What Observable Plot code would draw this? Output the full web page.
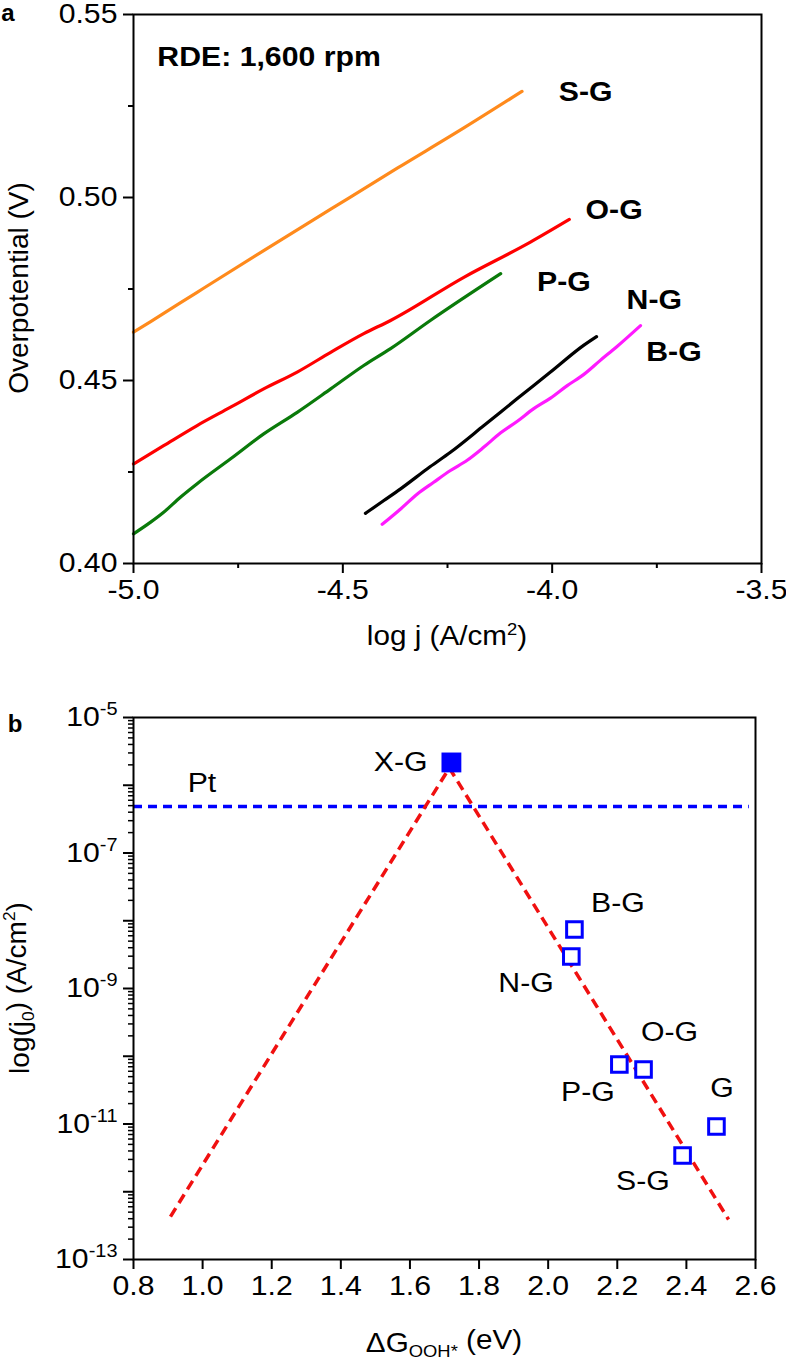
<!DOCTYPE html>
<html><head><meta charset="utf-8">
<script src="https://cdn.jsdelivr.net/npm/d3@7"></script>
<script src="https://cdn.jsdelivr.net/npm/@observablehq/plot@0.6"></script>
<style>
body{margin:0;background:#fff;}
#chart{width:786px;position:relative;}
svg{display:block;}
</style></head><body><div id="chart"></div>
<script>
// ---------- Panel a: Tafel curves ----------
const sgLogJ = [-5.000,-4.959,-4.848,-4.689,-4.529,-4.370,-4.211,-4.072];
const sgEta  = [0.4632,0.4661,0.4741,0.4855,0.4968,0.5080,0.5190,0.5290];
const ogLogJ = [-5.000,-4.928,-4.848,-4.768,-4.689,-4.609,-4.529,-4.450,-4.386,-4.211,-4.052,-3.959];
const ogEta  = [0.4272,0.4322,0.4377,0.4427,0.4477,0.4523,0.4577,0.4628,0.4664,0.4782,0.4878,0.4940];
const pgLogJ = [-5.000,-4.959,-4.928,-4.888,-4.848,-4.768,-4.689,-4.609,-4.529,-4.450,-4.386,-4.291,-4.123];
const pgEta  = [0.4081,0.4113,0.4140,0.4181,0.4218,0.4286,0.4354,0.4413,0.4477,0.4541,0.4587,0.4664,0.4792];
const ngLogJ = [-4.446,-4.402,-4.362,-4.291,-4.243,-4.163,-4.084,-4.004,-3.925,-3.894];
const ngEta  = [0.4137,0.4172,0.4204,0.4265,0.4304,0.4377,0.4450,0.4523,0.4596,0.4620];
const bgLogJ = [-4.406,-4.362,-4.322,-4.283,-4.243,-4.203,-4.163,-4.123,-4.084,-4.044,-4.004,-3.964,-3.925,-3.885,-3.845,-3.789];
const bgEta  = [0.4107,0.4149,0.4190,0.4222,0.4254,0.4282,0.4318,0.4357,0.4388,0.4423,0.4452,0.4486,0.4516,0.4555,0.4593,0.4650];

const seriesNames  = ["S-G","O-G","P-G","N-G","B-G"];
const seriesColors = ["#ff8a1c","#ff0000","#0a7a0a","#000000","#ff1aff"];
const seriesLabelX = [-3.920,-3.852,-3.972,-3.756,-3.709];
const seriesLabelY = [0.5287,0.4964,0.4768,0.4719,0.4577];

const aXMajor = [-5.0,-4.5,-4.0,-3.5];
const aXMinor = [-4.75,-4.25,-3.75];
const aYMajor = [0.40,0.45,0.50,0.55];
const aYMinor = [0.425,0.475,0.525];
const rdeText = "RDE: 1,600 rpm";
const rdeX = -4.943, rdeY = 0.5383;

// ---------- Panel b: volcano ----------
const catNames = ["B-G","N-G","P-G","O-G","S-G","G"];
const catDG    = [2.076,2.067,2.206,2.276,2.389,2.487];
const catJ0    = [7.43e-9,2.97e-9,7.55e-11,6.37e-11,3.43e-12,9.2e-12];
const catLabelX = [2.202,1.936,2.115,2.351,2.274,2.503];
const catLabelY = [1.80e-8,1.19e-9,2.92e-11,2.24e-10,1.42e-12,3.34e-11];
const catLabelOrder = ["B-G","N-G","P-G","O-G","S-G","G"];
const xgDG = 1.72, xgJ0 = 2.17e-6, xgLabelX = 1.651;
const volcanoDG = [0.907,1.714,2.522];
const volcanoJ0 = [4.3e-13,1.8e-6,3.9e-13];
const ptJ0 = 4.85e-7, ptDGStart = 0.8, ptDGEnd = 2.582, ptLabelX = 0.998, ptLabelY = 1.06e-6;
const bXTicks = [0.8,1.0,1.2,1.4,1.6,1.8,2.0,2.2,2.4,2.6];
const bYExp = [-13,-12,-11,-10,-9,-8,-7,-6,-5];
const bYLabelExp = [-13,-11,-9,-7,-5];

const FONT = "Arial, 'Liberation Sans', Helvetica, sans-serif";
const TICKFS = 27, LABFS = 27, SX = 1.12;

const chart = document.getElementById("chart");

// widen glyphs horizontally (reference lettering is wider than Arial)
function stretchTexts(svg, sx) {
  svg.querySelectorAll("text").forEach(el => {
    const T = el.getAttribute("transform") || "";
    if (/rotate/.test(T)) return;
    const xa = el.getAttribute("x");
    if (xa != null && /^-?[\d.]+$/.test(xa.trim())) el.setAttribute("x", parseFloat(xa) / sx);
    const dxa = el.getAttribute("dx");
    if (dxa != null && /^-?[\d.]+$/.test(dxa.trim())) el.setAttribute("dx", parseFloat(dxa) / sx);
    el.setAttribute("transform", `${T} scale(${sx},1)`);
  });
}

// ----- build panel a -----
const curves = [
  [sgLogJ, sgEta], [ogLogJ, ogEta], [pgLogJ, pgEta], [ngLogJ, ngEta], [bgLogJ, bgEta]
];
const curveRows = curves.flatMap(([xs, ys], i) => xs.map((x, k) => ({name: seriesNames[i], x, y: ys[k]})));
const labelRowsA = seriesNames.map((n, i) => ({name: n, x: seriesLabelX[i], y: seriesLabelY[i]}));

const svgA = Plot.plot({
  width: 786, height: 665,
  marginTop: 14, marginBottom: 102, marginLeft: 133, marginRight: 25,
  style: {fontFamily: FONT, fontSize: TICKFS + "px", color: "black", background: "white", overflow: "visible"},
  x: {domain: [-5.0, -3.5]},
  y: {domain: [0.40, 0.55]},
  color: {domain: seriesNames, range: seriesColors},
  marks: [
    Plot.axisX({ticks: aXMajor, tickSize: 10, tickPadding: 6, strokeWidth: 2, tickFormat: d => d.toFixed(1), label: null, fontSize: TICKFS}),
    Plot.axisX({ticks: aXMinor, tickSize: 5, strokeWidth: 2, tickFormat: () => "", label: null}),
    Plot.axisY({ticks: aYMajor, tickSize: 10, tickPadding: 6, strokeWidth: 2, tickFormat: d => d.toFixed(2), label: null, fontSize: TICKFS}),
    Plot.axisY({ticks: aYMinor, tickSize: 5, strokeWidth: 2, tickFormat: () => "", label: null}),
    Plot.line(curveRows, {x: "x", y: "y", z: "name", stroke: "name", strokeWidth: 3.2, curve: "monotone-x"}),
    Plot.text(labelRowsA, {x: "x", y: "y", text: "name", fontWeight: "bold", fontSize: LABFS, textAnchor: "middle", fill: "black"}),
    Plot.text([rdeText], {x: rdeX, y: rdeY, text: d => d, fontWeight: "bold", fontSize: LABFS, textAnchor: "start", fill: "black"}),
    Plot.frame({stroke: "black", strokeWidth: 2})
  ]
});
chart.appendChild(svgA);
stretchTexts(svgA, SX);

// titles for panel a
{
  const s = d3.select(svgA);
  s.append("text").attr("x", 8).attr("y", 21).attr("font-family", FONT).attr("font-weight", "bold")
    .attr("font-size", 24).attr("fill", "black").text("a");
  s.append("text").attr("transform", "translate(28,288) rotate(-90)").attr("text-anchor", "middle")
    .attr("font-family", FONT).attr("font-size", 28).attr("fill", "black").text("Overpotential (V)");
  const t = s.append("text").attr("transform", "translate(447,645) scale(1.06,1)").attr("text-anchor", "middle")
    .attr("font-family", FONT).attr("font-size", 28).attr("fill", "black");
  t.append("tspan").text("log j (A/cm");
  t.append("tspan").attr("dy", "-0.6em").attr("font-size", "0.62em").text("2");
  t.append("tspan").attr("dy", "0.37em").text(")");
}

// ----- build panel b -----
const catRows = catNames.map((n, i) => ({name: n, x: catDG[i], y: catJ0[i]}));
const catLabelRows = catLabelOrder.map((n, i) => ({name: n, x: catLabelX[i], y: catLabelY[i]}));
const volcanoRows = volcanoDG.map((x, i) => ({x, y: volcanoJ0[i]}));
const bYMajor = bYExp.map(e => Math.pow(10, e));
const bYMinor = bYExp.slice(0, -1).flatMap(e => [2,3,4,5,6,7,8,9].map(k => k * Math.pow(10, e)));

const svgB = Plot.plot({
  width: 786, height: 702,
  marginTop: 52, marginBottom: 108, marginLeft: 133, marginRight: 31,
  style: {fontFamily: FONT, fontSize: TICKFS + "px", color: "black", background: "white", overflow: "visible"},
  x: {domain: [0.8, 2.6]},
  y: {type: "log", domain: [1e-13, 1e-5]},
  marks: [
    Plot.axisX({ticks: bXTicks, tickSize: 10, tickPadding: 6, strokeWidth: 2, tickFormat: d => d.toFixed(1), label: null, fontSize: TICKFS}),
    Plot.axisY({ticks: bYMajor, tickSize: 10, tickPadding: 6, strokeWidth: 2, label: null, fontSize: TICKFS,
      tickFormat: d => { const e = Math.round(Math.log10(d)); return bYLabelExp.includes(e) ? "10^" + e : ""; }}),
    Plot.axisY({ticks: bYMinor, tickSize: 5, strokeWidth: 1.5, tickFormat: () => "", label: null}),
    Plot.ruleY([{y: ptJ0, x1: ptDGStart, x2: ptDGEnd}], {y: "y", x1: "x1", x2: "x2", stroke: "#0000ff", strokeWidth: 3.5, strokeDasharray: "9,6"}),
    Plot.line(volcanoRows, {x: "x", y: "y", stroke: "#f01010", strokeWidth: 3.5, strokeDasharray: "10,6", strokeLinecap: "butt"}),
    Plot.dot(catRows, {x: "x", y: "y", symbol: "square", r: 8.8, stroke: "#0000ff", strokeWidth: 3, fill: "white"}),
    Plot.dot([{x: xgDG, y: xgJ0}], {x: "x", y: "y", symbol: "square", r: 11.2, fill: "#0000ff", stroke: "none"}),
    Plot.text(catLabelRows, {x: "x", y: "y", text: "name", fontSize: LABFS, textAnchor: "middle", fill: "black"}),
    Plot.text([{x: xgLabelX, y: xgJ0, t: "X-G"}], {x: "x", y: "y", text: "t", fontSize: LABFS, textAnchor: "end", fill: "black"}),
    Plot.text([{x: ptLabelX, y: ptLabelY, t: "Pt"}], {x: "x", y: "y", text: "t", fontSize: LABFS, textAnchor: "middle", fill: "black"}),
    Plot.frame({stroke: "black", strokeWidth: 2})
  ]
});
chart.appendChild(svgB);

{
  const s = d3.select(svgB);
  // superscript tick labels
  s.selectAll('g[aria-label="y-axis tick label"] text').each(function() {
    const str = this.textContent;
    if (!str || str.indexOf("^") < 0) return;
    const [base, exp] = str.split("^");
    const el = d3.select(this);
    el.text(null);
    el.append("tspan").text(base);
    el.append("tspan").attr("dy", "-0.6em").attr("font-size", "0.66em").text(exp);
  });
  stretchTexts(svgB, SX);
  s.append("text").attr("x", 15).attr("y", 67).attr("font-family", FONT).attr("font-weight", "bold")
    .attr("font-size", 24).attr("fill", "black").text("b");
  const yl = s.append("text").attr("transform", "translate(29,323) rotate(-90)").attr("text-anchor", "middle")
    .attr("font-family", FONT).attr("font-size", 28).attr("fill", "black");
  yl.append("tspan").text("log(j");
  yl.append("tspan").attr("dy", "0.3em").attr("font-size", "0.62em").text("0");
  yl.append("tspan").attr("dy", "-0.3em").text(") (A/cm");
  yl.append("tspan").attr("dy", "-0.6em").attr("font-size", "0.62em").text("2");
  yl.append("tspan").attr("dy", "0.37em").text(")");
  const xl = s.append("text").attr("transform", "translate(444,687) scale(1.06,1)").attr("text-anchor", "middle")
    .attr("font-family", FONT).attr("font-size", 28).attr("fill", "black");
  xl.append("tspan").text("ΔG");
  xl.append("tspan").attr("dy", "0.3em").attr("font-size", "0.62em").text("OOH*");
  xl.append("tspan").attr("dy", "-0.3em").text(" (eV)");
}
</script>
</body></html>
